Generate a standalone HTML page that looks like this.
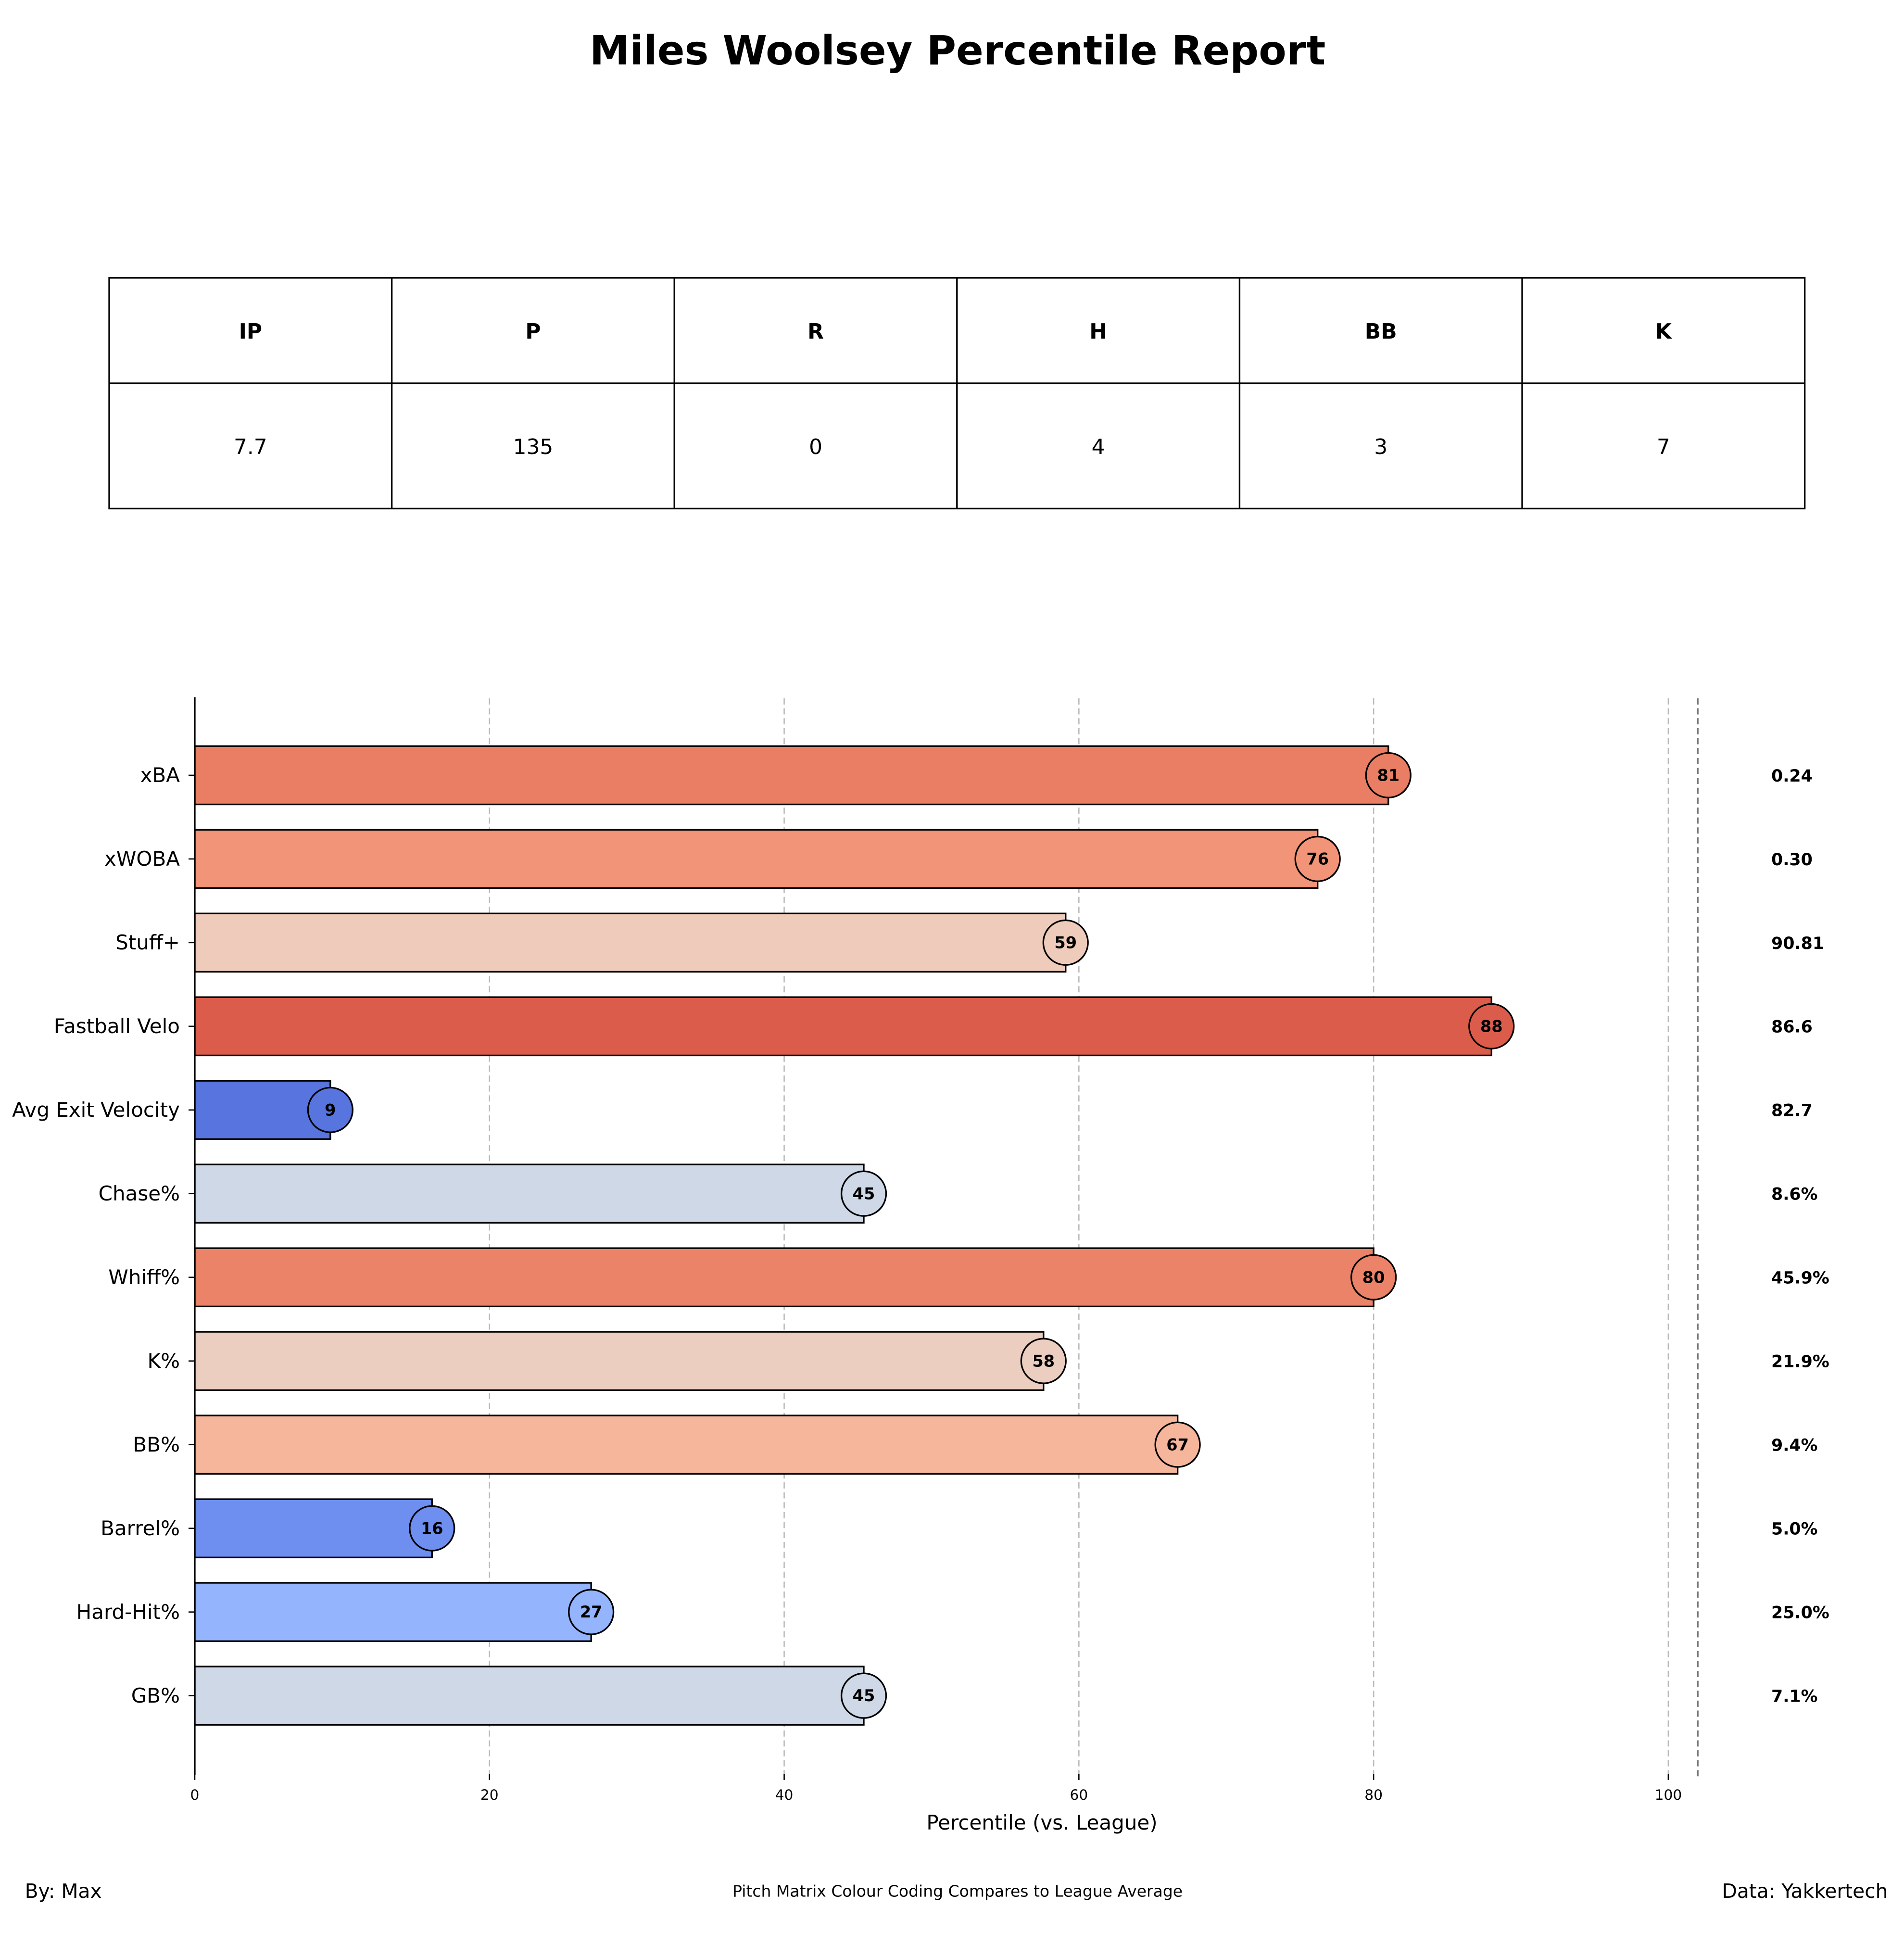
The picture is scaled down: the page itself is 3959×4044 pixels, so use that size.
<!DOCTYPE html>
<html><head><meta charset="utf-8"><style>
html,body{margin:0;padding:0;background:#fff;}
svg{display:block;font-family:"DejaVu Sans","Liberation Sans",sans-serif;}
</style></head><body>
<svg id="chart" width="3959" height="4044" viewBox="0 0 1535 1568" xmlns="http://www.w3.org/2000/svg">
<rect width="1535" height="1568" fill="#fff"/>
<text x="772" y="52" text-anchor="middle" font-size="32.5" font-weight="bold">Miles Woolsey Percentile Report</text>
<g id="table"></g>
<g id="plot"></g>
<text x="840" y="1475" text-anchor="middle" font-size="16.3">Percentile (vs. League)</text>
<text x="20" y="1530" font-size="15.8">By: Max</text>
<text x="772" y="1529" text-anchor="middle" font-size="12.8">Pitch Matrix Colour Coding Compares to League Average</text>
<text x="1522" y="1530" text-anchor="end" font-size="15.8">Data: Yakkertech</text>
</svg>
<script>
const statHeaders = ["IP","P","R","H","BB","K"];
const statValues = ["7.7","135","0","4","3","7"];
const categories = ["xBA","xWOBA","Stuff+","Fastball Velo","Avg Exit Velocity","Chase%","Whiff%","K%","BB%","Barrel%","Hard-Hit%","GB%"];
const percentiles = [81,76.2,59.1,88,9.2,45.4,80,57.6,66.7,16.1,26.9,45.4];
const rawValues = ["0.24","0.30","90.81","86.6","82.7","8.6%","45.9%","21.9%","9.4%","5.0%","25.0%","7.1%"];
const xTicks = [0,20,40,60,80,100];

const NS="http://www.w3.org/2000/svg";
function mk(tag,attrs,parent){const e=document.createElementNS(NS,tag);for(const k in attrs)e.setAttribute(k,attrs[k]);parent.appendChild(e);return e;}

const tbl=document.getElementById('table');
const tx0=88,tx1=1455,ty0=224,ty1=309,ty2=410,cw=(tx1-tx0)/6;
mk('rect',{x:tx0,y:ty0,width:tx1-tx0,height:ty2-ty0,fill:'none',stroke:'#000','stroke-width':1.3},tbl);
mk('line',{x1:tx0,x2:tx1,y1:ty1,y2:ty1,stroke:'#000','stroke-width':1.3},tbl);
statHeaders.forEach((h,i)=>{
  if(i>0){mk('line',{x1:tx0+i*cw,x2:tx0+i*cw,y1:ty0,y2:ty2,stroke:'#000','stroke-width':1.3},tbl);}
  const t=mk('text',{x:tx0+(i+.5)*cw,y:273,'text-anchor':'middle','font-size':17,'font-weight':'bold'},tbl);
  t.textContent=h;
  
  
  const v=mk('text',{x:tx0+(i+.5)*cw,y:366,'text-anchor':'middle','font-size':17},tbl);
  v.textContent=statValues[i];
  
  
});

const cm=[[0,[59,76,192]],[0.125,[98,130,234]],[0.25,[141,176,254]],[0.375,[184,208,249]],[0.5,[221,221,221]],[0.625,[245,196,173]],[0.75,[244,154,123]],[0.875,[222,96,77]],[1,[180,4,38]]];
function coolwarm(t){t=Math.max(0,Math.min(1,t));for(let i=1;i<cm.length;i++){if(t<=cm[i][0]){const a=cm[i-1],b=cm[i];const f=(t-a[0])/(b[0]-a[0]);return 'rgb('+a[1].map((c,k)=>Math.round(c+(b[1][k]-c)*f)).join(',')+')';}}return 'rgb(180,4,38)';}

const plot=document.getElementById('plot');
const X0=157,X100=1345;
const xs=v=>X0+(X100-X0)*v/100;
const yTop=625,yStep=(1367-625)/11,bh=47;
const ys=i=>yTop+i*yStep;

xTicks.forEach(t=>{
  if(t>0){const g=mk('line',{x1:xs(t),x2:xs(t),y1:563,y2:1430,stroke:'#bbb','stroke-width':1,'stroke-dasharray':'5,3'},plot);
  
  }
  const l=mk('text',{x:xs(t),y:1451,'text-anchor':'middle','font-size':11.5},plot);
  l.textContent=t;
  
  
});
const ref=mk('line',{x1:xs(102),x2:xs(102),y1:563,y2:1432,stroke:'#777','stroke-width':1.3,'stroke-dasharray':'5,3'},plot);



categories.forEach((c,i)=>{
  const v=percentiles[i],y=ys(i),col=coolwarm(v/100);
  const r=mk('rect',{x:X0,y:y-bh/2,width:xs(v)-X0,height:bh,fill:col,stroke:'#000','stroke-width':1.3},plot);
  
  
  const ci=mk('circle',{cx:xs(v),cy:y,r:18,fill:col,stroke:'#000','stroke-width':1.3},plot);
  
  
  const pt=mk('text',{x:xs(v),y:y+4.5,'text-anchor':'middle','font-size':13,'font-weight':'bold'},plot);
  pt.textContent=Math.round(v);
  
  
  const cl=mk('text',{x:X0-12,y:y+5.5,'text-anchor':'end','font-size':16.3},plot);
  cl.textContent=c;
  
  
  mk('line',{x1:X0-5,x2:X0,y1:y,y2:y,stroke:'#000','stroke-width':1},plot);
  const rv=mk('text',{x:1428,y:y+5,'font-size':13.5,'font-weight':'bold'},plot);
  rv.textContent=rawValues[i];
  
  
});
xTicks.forEach(t=>{mk('line',{x1:xs(t),x2:xs(t),y1:1430,y2:1435,stroke:'#000','stroke-width':1},plot);});
const sp=mk('line',{x1:X0,x2:X0,y1:562,y2:1431,stroke:'#000','stroke-width':1.3},plot);


</script>
</body></html>
